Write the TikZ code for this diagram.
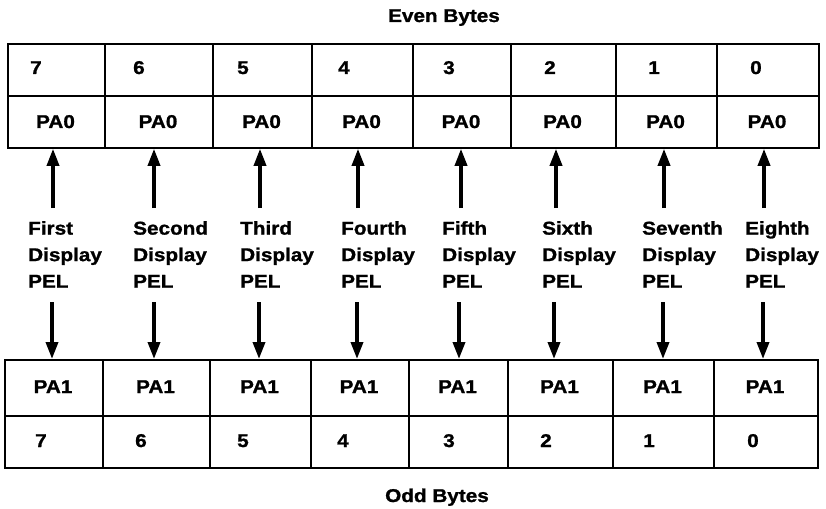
\documentclass[tikz,border=0pt]{standalone}
\usepackage{fontspec}
\setmainfont{Liberation Sans}[FakeStretch=1.12,FakeBold=1.2]
\usetikzlibrary{arrows.meta}
\begin{document}
\begin{tikzpicture}[x=1pt,y=-1pt,
  cell/.style={draw, line width=1.8pt, inner sep=0pt, anchor=north west},
  txt/.style={font=\bfseries\fontsize{18.5}{26.5}\selectfont, inner sep=0pt, anchor=base west},
  ctxt/.style={txt, anchor=base},
  lab/.style={font=\bfseries\fontsize{18.5}{26.5}\selectfont, inner sep=0pt, anchor=north west, align=left},
  arr/.style={line width=3.5pt, -{Triangle[width=12pt,length=17pt]}}]
\useasboundingbox (0,0) rectangle (826,508);
\node[ctxt] (even) at (444,22) {Even Bytes};
\node[ctxt] (odd) at (437,502) {Odd Bytes};
% top table
\foreach \i/\a/\b/\n/\nx in {1/7/104/7/30, 2/104/212/6/133, 3/212/311/5/237, 4/311/412/4/338,
                              5/412/510/3/443, 6/510/615/2/544, 7/615/716/1/648, 8/716/818/0/750}{
  \node[cell, minimum width={(\b-\a)*1pt}, minimum height=52pt] (t\i) at (\a,43) {};
  \node[cell, minimum width={(\b-\a)*1pt}, minimum height=52pt] (p\i) at (\a,95) {};
  \node[txt] (tn\i) at (\nx,74) {\n};
  \node[ctxt] (pa\i) at ({(\a+\b)/2},128) {PA0};
}
% bottom table
\foreach \i/\a/\b/\n/\nx in {1/4/102/7/35, 2/102/209/6/135, 3/209/310/5/237, 4/310/408/4/337,
                              5/408/507/3/443, 6/507/612/2/540, 7/612/713/1/643, 8/713/817/0/747}{
  \node[cell, minimum width={(\b-\a)*1pt}, minimum height=56pt] (q\i) at (\a,359) {};
  \node[cell, minimum width={(\b-\a)*1pt}, minimum height=52pt] (b\i) at (\a,415) {};
  \node[txt] (bn\i) at (\nx,447) {\n};
  \node[ctxt] (qa\i) at ({(\a+\b)/2},393) {PA1};
}
% labels and arrows
\foreach \i/\lx/\ux/\dx/\w in {1/28/53/52/First, 2/133/154/154/Second, 3/240/260/259/Third,
                                4/341/358/357/Fourth, 5/442/461/459/Fifth, 6/542/556/554/Sixth,
                                7/642/664/663/Seventh, 8/745/764/763/Eighth}{
  \node[lab] (l\i) at (\lx,221) {\w\\Display\\PEL};
  \coordinate (us\i) at (\ux,208);
  \coordinate (ds\i) at (\dx,302);
  \draw[arr] (us\i) -- (us\i |- p\i.south);
  \draw[arr] (ds\i) -- (ds\i |- q\i.north);
}
\end{tikzpicture}
\end{document}
